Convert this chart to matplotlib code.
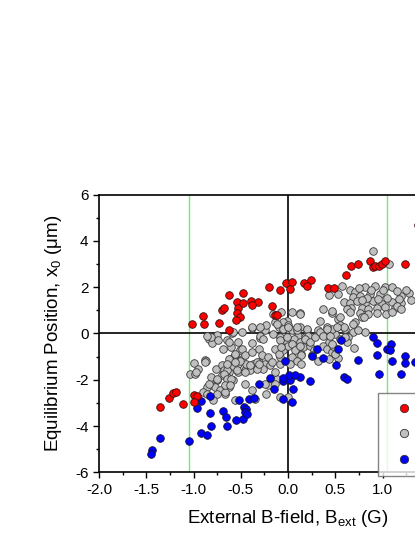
import matplotlib
matplotlib.use("Agg")
import matplotlib.pyplot as plt
from matplotlib.lines import Line2D

plt.rcParams['font.family'] = ['Liberation Sans', 'DejaVu Sans']
plt.rcParams['mathtext.default'] = 'regular'

red_x = [-1.02, -0.90, -0.89, -0.73, -0.70, -0.68, -0.62, -0.63, -0.48, -0.20, -0.09, -0.02, 0.04, 0.02,
         0.17, 0.24, 0.20, -0.54, -0.53, -0.48, -0.39, -0.32, -0.38, -0.17, -0.54, -0.51, -0.55, -0.14, -0.12,
         0.42, 0.49, 0.61, 0.67, 0.74, 0.87, 0.90, 0.92, 0.96, 0.99, 1.03, 1.24, 1.37,
         -1.36, -1.26, -1.22, -1.19, -1.11, -0.99, -0.96, -0.99]
red_y = [0.42, 0.75, 0.39, 0.46, 1.02, 1.11, 1.68, 0.16, 1.76, 2.03, 1.89, 2.17, 2.23, 1.93,
         2.20, 2.32, 2.07, 1.34, 1.12, 1.31, 1.42, 1.35, 1.21, 1.17, 0.88, 0.72, 0.60, 0.78, 0.78,
         1.97, 1.97, 2.53, 2.92, 3.00, 3.14, 2.89, 2.93, 2.92, 3.00, 3.13, 3.02, 4.68,
         -3.16, -2.79, -2.58, -2.53, -3.06, -2.66, -2.70, -2.95]

blue_x = [-0.83, -0.92, -0.96, -0.83, -0.69, -0.66, -0.65, -0.82, -0.92, -0.86, -1.05, -1.35, -1.44, -1.45,
          -0.55, -0.48, -0.47, -0.44, -0.46, -0.43, -0.52, -0.41, -0.36, -0.31, -0.19, -0.15, -0.05, -0.05,
          0.02, 0.04, 0.05, 0.13, 0.23, 0.59, 0.62, 0.96, 1.20,
          -0.05, 0.01, 0.07, -0.03, 0.31, 0.25, 0.37, 0.56, 0.53, 0.51, 0.74, 0.90, 0.94, 0.94,
          1.05, 1.09, 1.08, 1.10, 1.24, 1.24, 1.34]
blue_y = [-2.71, -2.93, -3.24, -3.45, -3.36, -3.62, -4.01, -4.01, -4.29, -4.37, -4.63, -4.53, -5.02, -5.22,
          -3.72, -3.70, -3.18, -3.25, -3.40, -3.50, -2.86, -2.85, -2.78, -2.17, -1.91, -2.39, -2.06, -2.84,
          -2.03, -2.98, -2.39, -1.87, -2.07, -1.89, -1.95, -1.75, -1.75,
          -1.91, -1.81, -1.81, -1.19, -0.66, -0.99, -1.04, -0.30, -0.66, -1.35, -1.15, -0.16, -0.42, -0.95,
          -0.68, -0.46, -0.70, -1.18, -0.99, -1.28, -1.24]

gray_x = [-0.84, -0.80, -0.75, -0.69, -0.65, -0.59, -0.49, -0.38, -0.30, -0.24, -0.23, -0.16,
          -0.88, -1.00, -1.04, -0.98, -0.76, -0.70, -0.68, -0.61, -0.56, -0.51, -0.49, -0.53, -0.58, -0.63,
          -0.65, -0.70, -0.75, -0.83, -0.77, -0.86, -0.72, -0.67, -0.63, -0.58, -0.53, -0.46, -0.40, -0.44,
          -0.37, -0.31, -0.24, -0.19, -0.26, -0.33, -0.46, -0.38, -0.23, -0.21, -0.12, -0.14, -0.08, -0.08,
          -0.05, -0.01, -0.08, -0.01, -0.16, -0.07, 0.04,
          0.57, 0.43, 0.53, 0.66, 0.71, 0.81, 0.92, 1.03, 1.10, 0.69, 0.76, 0.87, 0.97,
          0.59, 0.66, 0.73, 0.81, 0.90, 0.99, 1.10, 1.19,
          0.67, 0.78, 0.85, 0.94, 1.03, 1.13, 0.76, 0.85, 0.94, 1.04, 1.10,
          1.20, 1.17, 0.13, 0.37, 0.46, 0.53, 0.34, 0.55, 0.60, 0.71, 0.78, 0.81, 0.42, 0.50, 0.32, 0.46,
          0.69, 0.74, 0.63, 0.55, 0.43, 0.37, 0.70,
          0.00, 0.07, 0.13, 0.20, 0.11, 0.06, 0.13, 0.18, 0.21, 0.00, 0.09, 0.16, 0.23, 0.27, 0.14, 0.09,
          0.25, 0.41, 0.46, 0.48, 0.62, 0.53, 0.43, 0.32, 0.39,
          -0.38, -0.30, 0.13, -0.14, -0.05, -0.10, -0.05, 0.00, 0.04, 0.09, 0.20, 0.21, 0.18, 0.23, 0.29, 0.32,
          -0.60, -0.53, -0.49, -0.56, -0.46, -0.38, -0.31, -0.28, -0.21, -0.14, -0.10, -0.17, -0.33, -0.51,
          0.04, 0.07, 0.13, 0.14, 0.04, 0.09, -0.08, -0.01, -0.07,
          -0.62, -0.87, -0.95, -0.97, -0.88, -0.65, -0.68, -0.81, -0.75, -0.84, -0.90, -0.75, -0.67, -0.65,
          -0.65, -0.65, -0.56, -0.40, -0.31, 0.02, 0.14, -0.54, -0.46, -0.60, -0.67, -0.61, -0.24, -0.14,
          -0.35, -0.56, 0.00, -0.86, -0.79, -0.08,
          0.90, 1.07, 0.55, 0.62, 0.80, 0.59, 0.41, 0.34, -0.38, -0.58, -0.63, -0.81, -0.86, -0.74, -0.26,
          -0.30, -0.12, 0.00, 0.09,
          0.47, 1.15, 1.00, 0.88, 0.75, 0.95, 0.84, 1.05, 0.78, 1.15, 1.20,
          0.66, 0.69, 0.52, 0.41, 0.37, 0.44, 0.60, 0.46, 0.50, 1.28, 1.30, 1.25]
gray_y = [-0.23, -0.40, -0.06, -0.66, -0.30, 0.03, 0.06, 0.23, -0.19, 0.13, 0.35, -0.01,
          -1.14, -1.27, -1.74, -1.74, -1.52, -1.38, -1.60, -1.09, -0.95, -0.73, -1.09, -1.31, -1.45, -1.67,
          -1.88, -1.81, -2.03, -2.24, -2.32, -2.32, -2.46, -2.60, -2.32, -2.03, -1.67, -1.60, -1.60, -1.31,
          -1.31, -1.24, -1.31, -1.38, -1.52, -1.52, -2.17, -2.46, -2.60, -2.24, -1.96, -1.67, -1.31, -1.02,
          -0.73, -0.37, -0.16, 0.56, 0.85, 0.92, 0.92,
          2.04, 1.68, 1.71, 1.86, 1.78, 2.00, 2.07, 2.03, 2.00, 1.57, 1.64, 1.71, 1.71,
          1.38, 1.30, 1.42, 1.33, 1.40, 1.28, 1.37, 1.32,
          1.10, 1.12, 1.06, 1.10, 1.14, 1.08, 0.88, 0.85, 0.90, 0.86, 0.92,
          1.64, 1.50, 0.88, 1.06, 0.88, 0.63, 0.56, 0.35, 0.20, 0.49, 0.70, 0.06, 0.13, -0.01, 0.01, 0.20,
          0.06, 0.13, -0.16, -0.23, -0.37, -0.52, -0.62,
          0.20, 0.13, 0.27, 0.13, -0.09, -0.23, -0.37, -0.16, -0.30, -0.52, -0.66, -0.59, -0.52, -0.73, -0.88, -0.95,
          -0.95, -0.66, -0.81, -0.52, -0.37, -1.05, -1.09, -1.17, -0.01,
          0.27, -0.09, 0.85, 0.49, 0.49, 0.27, 0.20, 0.35, 0.13, 0.13, 0.20, -0.09, -0.23, -0.37, -0.16, 0.13,
          -0.59, -0.37, -0.66, -0.88, -0.95, -0.81, -0.66, -0.95, -1.02, -0.66, -0.88, -1.24, -1.24, -1.17,
          -0.44, -0.73, -0.52, -0.95, -1.02, -1.17, -0.30, -0.16, -0.59,
          -1.09, -1.17, -1.52, -1.67, -1.24, -1.60, -1.74, -1.88, -1.96, -2.17, -2.53, -2.60, -2.53, -2.17,
          -1.96, -1.31, -1.24, -1.38, -1.31, -1.31, -1.31, -1.60, -1.67, -1.96, -2.24, -2.24, -2.17, -2.17,
          -2.82, -2.89, -2.75, -2.60, -2.89, -2.75,
          3.58, 3.00, 0.70, 1.06, 0.70, 0.27, 0.27, 0.06, -0.40, 0.06, -0.37, -0.16, -0.09, -0.30, -0.23,
          0.27, 0.42, 0.27, 0.27,
          0.95, 1.85, 1.90, 1.90, 1.95, 1.50, 1.52, 1.55, 1.45, 1.20, 1.05,
          0.92, 0.42, 0.27, 0.20, -0.09, -0.09, -0.16, -0.44, -0.88, 1.75, 1.45, 1.90]

x_major = [-2.0, -1.5, -1.0, -0.5, 0.0, 0.5, 1.0, 1.5, 2.0]
# labels past 1.0 sit outside the cropped figure
x_labels = ['-2.0', '-1.5', '-1.0', '-0.5', '0.0', '0.5', '1.0', '', '']
y_major = [-6, -4, -2, 0, 2, 4, 6]
y_labels = ['-6', '-4', '-2', '0', '2', '4', '6']

fig = plt.figure(figsize=(4.15, 5.37), dpi=100)
ax = fig.add_axes([0.2386, 0.1205, 0.911, 0.517])

ax.axvline(-1.05, color='#70ec70', lw=1.0, zorder=1)
ax.axvline(1.05, color='#70ec70', lw=1.0, zorder=1)
ax.axhline(0, color='black', lw=1.2, zorder=1)
ax.axvline(0, color='black', lw=1.2, zorder=1)

kw = dict(s=30, linewidths=0.6, zorder=3)
ax.scatter(gray_x, gray_y, c='#c0c0c0', edgecolors='#3a3a3a', **kw)
ax.scatter(blue_x, blue_y, c='#0000ff', edgecolors='#111133', **kw)
ax.scatter(red_x, red_y, c='#ff0000', edgecolors='#331111', **kw)

ax.set_xlim(-2.0, 2.0)
ax.set_ylim(-6, 6)
ax.set_xticks(x_major)
ax.set_xticklabels(x_labels)
ax.set_xticks([-1.75, -1.25, -0.75, -0.25, 0.25, 0.75, 1.25, 1.75], minor=True)
ax.set_yticks(y_major)
ax.set_yticklabels(y_labels)
ax.set_yticks([-5, -3, -1, 1, 3, 5], minor=True)
ax.tick_params(which='major', direction='out', length=4, width=1.0, labelsize=11)
ax.tick_params(which='minor', direction='out', length=2.5, width=1.0)
for sp in ax.spines.values():
    sp.set_linewidth(1.2)

ax.set_xlabel('External B-field, B$_{ext}$ (G)', fontsize=13.5, labelpad=8)
ax.set_ylabel('Equilibrium Position, x$_0$ ($\\mu$m)', fontsize=13.5, labelpad=8)

handles = [Line2D([], [], marker='o', ls='none', markersize=6, markerfacecolor=c,
                  markeredgecolor='#333333', markeredgewidth=0.6)
           for c in ['#ff0000', '#c0c0c0', '#0000ff']]
leg = fig.legend(handles, [' ', ' ', ' '], loc='upper left', bbox_to_anchor=(378 / 415, 1 - 393 / 537),
                 frameon=True, fancybox=False, edgecolor='#666666', borderpad=0.6,
                 labelspacing=0.75, handletextpad=0.5, borderaxespad=0, fontsize=11,
                 handlelength=2.2)
leg.get_frame().set_linewidth(1.0)

fig.savefig('out.png', dpi=100)
